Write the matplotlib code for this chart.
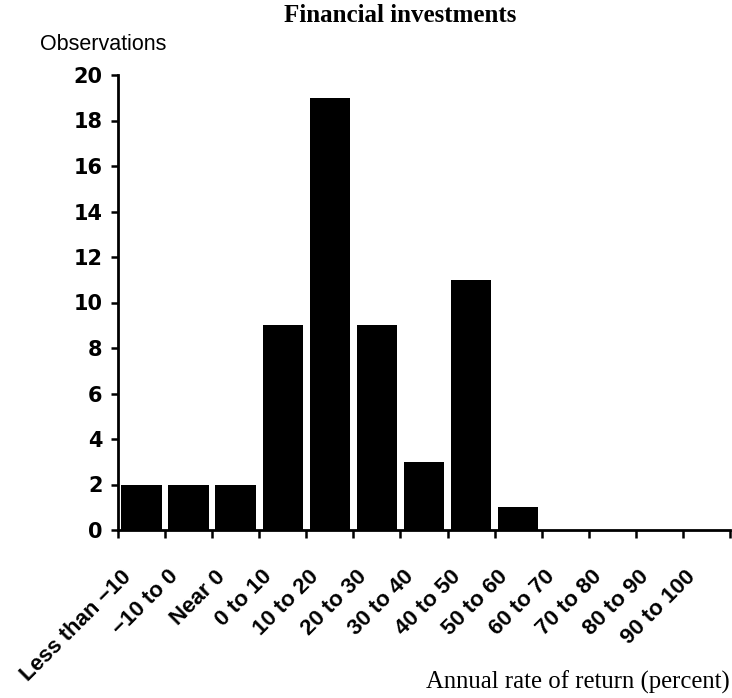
import matplotlib
matplotlib.use("Agg")
import matplotlib.pyplot as plt
import numpy as np

categories = ["Less than \u221210", "\u221210 to 0", "Near 0", "0 to 10", "10 to 20",
              "20 to 30", "30 to 40", "40 to 50", "50 to 60", "60 to 70",
              "70 to 80", "80 to 90", "90 to 100"]
observations = [2, 2, 2, 9, 19, 9, 3, 11, 1, 0, 0, 0, 0]
y_ticks = list(range(0, 21, 2))

fig = plt.figure(figsize=(7.32, 6.98), dpi=100)
ax = fig.add_axes([118/732, 1-530/698, 612/732, 455/698])

x = np.arange(len(categories))
ax.bar(x + 0.5, observations, width=0.86, color="black", align="center")

ax.set_xlim(0, len(categories))
ax.set_ylim(0, 20)
ax.set_yticks(y_ticks)
ax.set_yticklabels([str(v) for v in y_ticks], fontfamily="DejaVu Sans",
                   fontweight="bold", fontsize=15)
ax.set_xticks(np.arange(len(categories) + 1))
ax.set_xticklabels([])
ax.set_xticks(x + 0.05, minor=True)
ax.set_xticklabels(categories, minor=True, rotation=45, ha="right", va="top",
                   rotation_mode="anchor", fontfamily="Liberation Sans",
                   fontweight="bold", fontsize=16)
ax.tick_params(axis="x", which="minor", length=0, pad=26)
ax.tick_params(axis="x", which="major", length=6, width=1.8, direction="out")
ax.tick_params(axis="y", length=5, width=1.8, direction="out", pad=6)

for s in ["top", "right"]:
    ax.spines[s].set_visible(False)
ax.spines["left"].set_linewidth(2)
ax.spines["bottom"].set_linewidth(2)

fig.text(400/732, 1-16/698, "Financial investments", ha="center", va="center",
         fontfamily="Liberation Serif", fontweight="bold", fontsize=18)
fig.text(40/732, 1-45/698, "Observations", ha="left", va="center",
         fontfamily="Liberation Sans", fontsize=15.5)
fig.text(730/732, 1-682/698, "Annual rate of return (percent)", ha="right",
         va="center", fontfamily="Liberation Serif", fontsize=17.8)

fig.savefig("out.png", dpi=100)
